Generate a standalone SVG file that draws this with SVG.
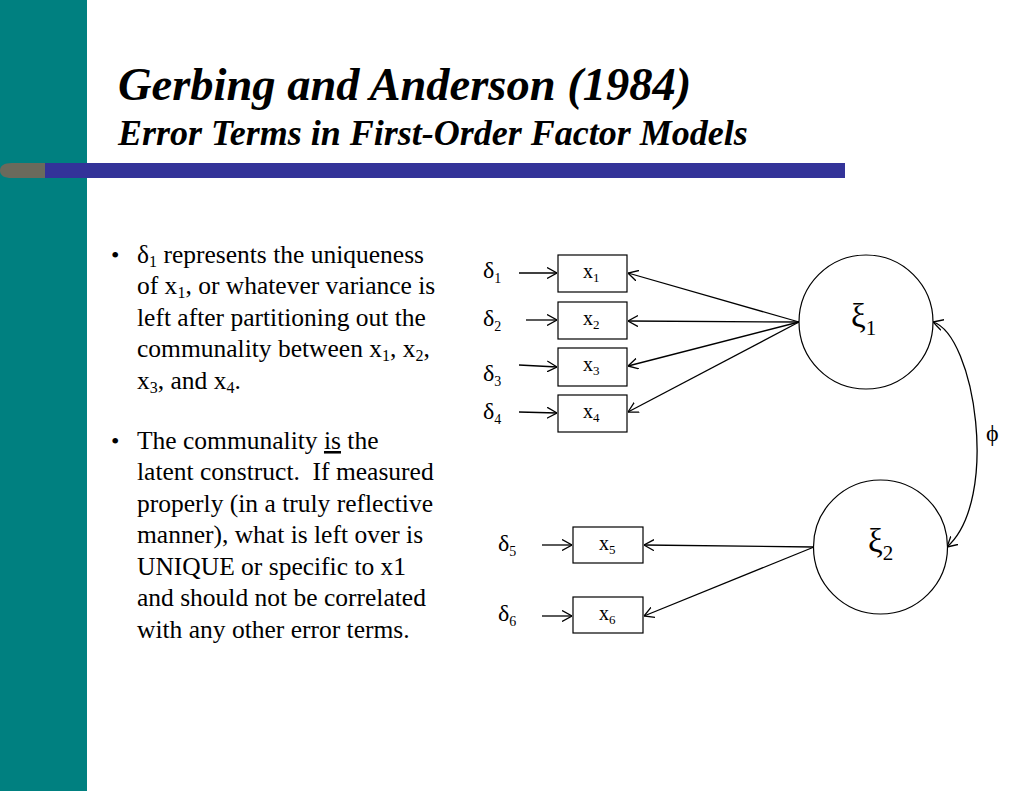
<svg xmlns="http://www.w3.org/2000/svg" width="1024" height="791" viewBox="0 0 1024 791">
<style>
.t{font-family:"Liberation Serif","Times New Roman",serif;fill:#000}
.title{font-weight:bold;font-style:italic}
.body{font-size:25.5px}
.lab{font-size:24px}
.box{fill:#fff;stroke:#000;stroke-width:1.2}
.circ{fill:#fff;stroke:#000;stroke-width:1.2}
.ln{fill:none;stroke:#000;stroke-width:1.3}
</style>
<defs>
<marker id="arr" viewBox="0 0 10 12" refX="10" refY="6" markerWidth="10" markerHeight="12" orient="auto-start-reverse" markerUnits="userSpaceOnUse">
<path d="M0,0.5 L10,6 L0,11.5" fill="none" stroke="#000" stroke-width="1.3"/>
</marker>
</defs>
<rect x="0" y="0" width="1024" height="791" fill="#fff"/>
<rect x="0" y="0" width="87" height="791" fill="#008080"/>
<rect x="40" y="163" width="805" height="15" fill="#333399"/>
<path d="M45,163 L12,163 Q0,163 0,170.5 Q0,178 12,178 L45,178 Z" fill="#6a6a5c"/>
<text class="t title" x="118" y="100" font-size="46.5">Gerbing and Anderson (1984)</text>
<text class="t title" x="118" y="145" font-size="36">Error Terms in First-Order Factor Models</text>
<g id="bullets" class="t body">
<text x="111" y="263" font-size="24">•</text>
<text x="137" y="263">δ<tspan font-size="16" dy="4">1</tspan><tspan dy="-4"> represents the uniqueness</tspan></text>
<text x="137" y="294">of x<tspan font-size="16" dy="4">1</tspan><tspan dy="-4">, or whatever variance is</tspan></text>
<text x="137" y="326">left after partitioning out the</text>
<text x="137" y="357">communality between x<tspan font-size="16" dy="4">1</tspan><tspan dy="-4">, x</tspan><tspan font-size="16" dy="4">2</tspan><tspan dy="-4">,</tspan></text>
<text x="137" y="389">x<tspan font-size="16" dy="4">3</tspan><tspan dy="-4">, and x</tspan><tspan font-size="16" dy="4">4</tspan><tspan dy="-4">.</tspan></text>
<text x="111" y="449" font-size="24">•</text>
<text x="137" y="449">The communality <tspan text-decoration="underline">is</tspan> the</text>
<text x="137" y="480">latent construct.&#160; If measured</text>
<text x="137" y="512">properly (in a truly reflective</text>
<text x="137" y="543">manner), what is left over is</text>
<text x="137" y="575">UNIQUE or specific to x1</text>
<text x="137" y="606">and should not be correlated</text>
<text x="137" y="638">with any other error terms.</text>
</g>
<g id="connectors">
<line class="ln" x1="519" y1="273" x2="557" y2="273" marker-end="url(#arr)"/>
<line class="ln" x1="526" y1="320" x2="557" y2="320" marker-end="url(#arr)"/>
<line class="ln" x1="519" y1="365" x2="557" y2="367" marker-end="url(#arr)"/>
<line class="ln" x1="519" y1="412" x2="557" y2="413" marker-end="url(#arr)"/>
<line class="ln" x1="542" y1="545" x2="572" y2="545" marker-end="url(#arr)"/>
<line class="ln" x1="542" y1="616" x2="572" y2="616" marker-end="url(#arr)"/>
<line class="ln" x1="799" y1="322" x2="628" y2="273" marker-end="url(#arr)"/>
<line class="ln" x1="799" y1="322" x2="628" y2="321" marker-end="url(#arr)"/>
<line class="ln" x1="799" y1="322" x2="628" y2="366" marker-end="url(#arr)"/>
<line class="ln" x1="799" y1="322" x2="628" y2="412" marker-end="url(#arr)"/>
<line class="ln" x1="814" y1="547" x2="644" y2="545" marker-end="url(#arr)"/>
<line class="ln" x1="814" y1="547" x2="644" y2="616" marker-end="url(#arr)"/>
<path class="ln" d="M933,322 C975,335 1000,500 947,547" marker-start="url(#arr)" marker-end="url(#arr)"/>
<text class="t" x="986" y="441" font-size="24">ϕ</text>
</g>
<g id="d1"><text class="t lab" x="483" y="278">δ<tspan font-size="14" dy="5">1</tspan></text></g>
<g id="d2"><text class="t lab" x="483" y="326">δ<tspan font-size="14" dy="5">2</tspan></text></g>
<g id="d3"><text class="t lab" x="483" y="381">δ<tspan font-size="14" dy="5">3</tspan></text></g>
<g id="d4"><text class="t lab" x="483" y="419">δ<tspan font-size="14" dy="5">4</tspan></text></g>
<g id="d5"><text class="t lab" x="498" y="551">δ<tspan font-size="14" dy="5">5</tspan></text></g>
<g id="d6"><text class="t lab" x="498" y="621">δ<tspan font-size="14" dy="5">6</tspan></text></g>
<g id="x1"><rect class="box" x="558" y="255" width="69" height="37"/><text class="t" x="583" y="278" font-size="20">x<tspan font-size="13" dy="4">1</tspan></text></g>
<g id="x2"><rect class="box" x="558" y="302" width="69" height="37"/><text class="t" x="583" y="325" font-size="20">x<tspan font-size="13" dy="4">2</tspan></text></g>
<g id="x3"><rect class="box" x="558" y="348" width="69" height="38"/><text class="t" x="583" y="371" font-size="20">x<tspan font-size="13" dy="4">3</tspan></text></g>
<g id="x4"><rect class="box" x="558" y="395" width="69" height="37"/><text class="t" x="583" y="418" font-size="20">x<tspan font-size="13" dy="4">4</tspan></text></g>
<g id="x5"><rect class="box" x="573" y="527" width="70" height="36"/><text class="t" x="599" y="550" font-size="20">x<tspan font-size="13" dy="4">5</tspan></text></g>
<g id="x6"><rect class="box" x="573" y="597" width="70" height="36"/><text class="t" x="599" y="620" font-size="20">x<tspan font-size="13" dy="4">6</tspan></text></g>
<g id="xi1"><circle class="circ" cx="866" cy="322" r="67"/><text class="t" x="851" y="327" font-size="33">ξ<tspan font-size="21" dy="8">1</tspan></text></g>
<g id="xi2"><circle class="circ" cx="880.5" cy="547" r="67"/><text class="t" x="868" y="552" font-size="33">ξ<tspan font-size="21" dy="8">2</tspan></text></g>
</svg>
